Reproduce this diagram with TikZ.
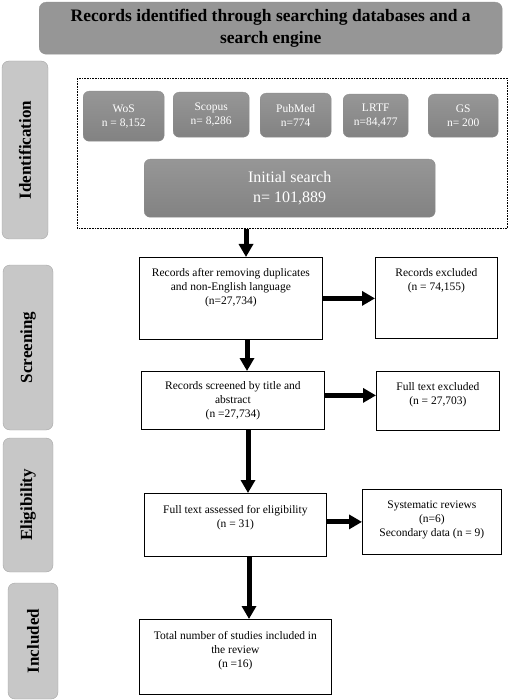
\documentclass[tikz,border=0pt]{standalone}
\usepackage{fontspec}
\setmainfont{Liberation Serif}
\usetikzlibrary{arrows.meta}
\newcommand\topbox[4]{\parbox[c][#2pt][t]{#1pt}{\centering\vspace*{#3pt}#4\par}}
\begin{document}
\begin{tikzpicture}[x=1pt,y=-1pt,
  banner/.style={rounded corners=7pt, draw=gray!85, fill=gray!82, inner sep=0pt, align=center,
    font=\bfseries\fontsize{17.5}{22}\selectfont},
  dbbox/.style={rounded corners=6pt, draw=gray!90, top color=gray!82, bottom color=gray!98,
    text=white, inner sep=0pt, align=center, font=\fontsize{11.5}{14}\selectfont},
  sidelab/.style={rounded corners=7pt, draw=gray!70, fill=gray!44, inner sep=0pt, rotate=90,
    font=\bfseries\fontsize{17}{20}\selectfont},
  wbox/.style={draw=black, line width=0.8pt, fill=white, inner sep=0pt,
    font=\fontsize{11.5}{14}\selectfont},
  arr/.style={line width=5pt, -{Triangle[length=13pt,width=14pt]}},
  nw/.style={anchor=north west}]
\useasboundingbox (0,0) rectangle (508,700);

% top banner
\node[banner, nw, minimum width=463pt, minimum height=52pt] (top) at (39,2)
  {Records identified through searching databases and a\\search engine};

% side labels
\node[sidelab, minimum width=178pt, minimum height=46pt] (lid) at (25,150) {Identification};
\node[sidelab, minimum width=165pt, minimum height=50pt] (lsc) at (28,347.5) {Screening};
\node[sidelab, minimum width=134pt, minimum height=50pt] (lel) at (28,505) {Eligibility};
\node[sidelab, minimum width=116pt, minimum height=50pt] (lin) at (33,641) {Included};

% identification dotted frame
\node[draw, densely dotted, line width=0.6pt, nw, minimum width=430pt, minimum height=150pt] (ident) at (77,78) {};

% databases
\node[dbbox, nw, minimum width=81pt, minimum height=50pt] (wos) at (83,91) {WoS\\n = 8,152};
\node[dbbox, nw, minimum width=76pt, minimum height=45pt] (scop) at (173,92) {Scopus\\n= 8,286};
\node[dbbox, nw, minimum width=71pt, minimum height=44pt] (pub) at (260,93) {PubMed\\n=774};
\node[dbbox, nw, minimum width=65pt, minimum height=43pt] (lrtf) at (343,94) {LRTF\\n=84,477};
\node[dbbox, nw, minimum width=70pt, minimum height=43pt] (gs) at (428,94) {GS\\n= 200};

\node[dbbox, nw, minimum width=291pt, minimum height=58pt, font=\fontsize{16}{20}\selectfont] (init) at (144,159)
  {Initial search\\n= 101,889};

% flow boxes
\node[wbox, nw] (b1) at (139,257) {\topbox{183}{82}{11}{Records after removing duplicates\\and non-English language\\(n=27,734)}};
\node[wbox, nw] (e1) at (375,257) {\topbox{122}{81}{11}{Records excluded\\(n = 74,155)}};
\node[wbox, nw] (b2) at (141,371) {\topbox{183}{58}{10.5}{Records screened by title and\\abstract\\(n =27,734)}};
\node[wbox, nw] (e2) at (376,371) {\topbox{123}{59}{11}{Full text excluded\\(n = 27,703)}};
\node[wbox, nw] (b3) at (144,493) {\topbox{182}{63}{12}{Full text assessed for eligibility\\(n = 31)}};
\node[wbox, nw] (e3) at (362,489) {\topbox{139}{65}{11.5}{Systematic reviews\\(n=6)\\Secondary data (n = 9)}};
\node[wbox, nw] (b4) at (139,619) {\topbox{192}{75}{11.5}{Total number of studies included in\\the review\\(n =16)}};

% arrow x positions
\coordinate (x1) at (246,0);
\coordinate (x2) at (247,0);
\coordinate (x3) at (248,0);
\coordinate (x4) at (249,0);

\draw[arr] (ident.south -| x1) -- (b1.north -| x1);
\draw[arr] (b1.south -| x2) -- (b2.north -| x2);
\draw[arr] (b2.south -| x3) -- (b3.north -| x3);
\draw[arr] (b3.south -| x4) -- (b4.north -| x4);

\draw[arr] (b1.east) -- (b1.east -| e1.west);
\draw[arr] ([yshift=5pt]b2.east) -- ([yshift=5pt]b2.east -| e2.west);
\draw[arr] ([yshift=3pt]b3.east) -- ([yshift=3pt]b3.east -| e3.west);
\end{tikzpicture}
\end{document}
